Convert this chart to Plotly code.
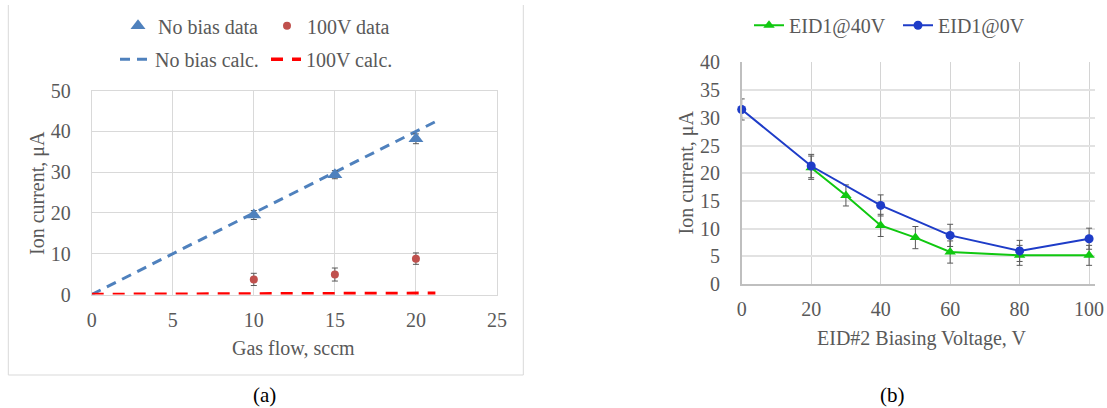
import plotly.graph_objects as go

W, H = 1107, 408

# ---------------- data: panel (a) ----------------
gas_flow = [10, 15, 20]
nobias_data = [19.5, 29.4, 38.2]
nobias_err = [1.1, 1.0, 1.2]
v100_data = [3.7, 4.9, 8.8]
v100_err = [1.5, 1.6, 1.4]
calc_flow = [0, 21.2]
nobias_calc = [0, 42.4]
v100_calc = [0, 0.3]
xticks_a = [0, 5, 10, 15, 20, 25]
yticks_a = [0, 10, 20, 30, 40, 50]

# ---------------- data: panel (b) ----------------
bias_v_40 = [20, 30, 40, 50, 60, 80, 100]
eid40 = [21.0, 16.0, 10.6, 8.4, 5.8, 5.2, 5.2]
eid40_err = [2.1, 1.9, 2.0, 2.0, 2.0, 1.8, 1.8]
bias_v_0 = [0, 20, 40, 60, 80, 100]
eid0 = [31.5, 21.3, 14.2, 8.8, 6.0, 8.2]
eid0_err = [1.9, 2.1, 1.9, 2.0, 1.9, 1.9]
xticks_b = [0, 20, 40, 60, 80, 100]
yticks_b = [0, 5, 10, 15, 20, 25, 30, 35, 40]

FONT = "Liberation Serif"
GRAY = "#595959"
ERR = dict(type="data", color="#595959", thickness=1, width=3)


def px(x):
    return x / W


def py(y):
    return 1 - y / H


fig = go.Figure()

# panel (a)
fig.add_trace(go.Scatter(x=calc_flow, y=nobias_calc, mode="lines", name="No bias calc.",
                         line=dict(color="#4F81BD", width=3, dash="10px,7px"),
                         xaxis="x", yaxis="y", legend="legend3", cliponaxis=False))
fig.add_trace(go.Scatter(x=calc_flow, y=v100_calc, mode="lines", name="100V calc.",
                         line=dict(color="#FF0000", width=3.5, dash="12px,9px"),
                         xaxis="x", yaxis="y", legend="legend4", cliponaxis=False))
fig.add_trace(go.Scatter(x=gas_flow, y=nobias_data, mode="markers", name="No bias data",
                         marker=dict(symbol="triangle-up", size=13, color="#4F81BD"),
                         error_y=dict(array=nobias_err, **ERR),
                         xaxis="x", yaxis="y", legend="legend", cliponaxis=False))
fig.add_trace(go.Scatter(x=gas_flow, y=v100_data, mode="markers", name="100V data",
                         marker=dict(symbol="circle", size=8, color="#C0504D"),
                         error_y=dict(array=v100_err, **ERR),
                         xaxis="x", yaxis="y", legend="legend2", cliponaxis=False))

# panel (b)
fig.add_trace(go.Scatter(x=bias_v_40, y=eid40, mode="lines+markers", name="EID1@40V",
                         line=dict(color="#10C810", width=2),
                         marker=dict(symbol="triangle-up", size=10, color="#10C810"),
                         error_y=dict(array=eid40_err, **ERR),
                         xaxis="x2", yaxis="y2", legend="legend5", cliponaxis=False))
fig.add_trace(go.Scatter(x=bias_v_0, y=eid0, mode="lines+markers", name="EID1@0V",
                         line=dict(color="#1E3CC8", width=2),
                         marker=dict(symbol="circle", size=9, color="#1E3CC8"),
                         error_y=dict(array=eid0_err, **ERR),
                         xaxis="x2", yaxis="y2", legend="legend6", cliponaxis=False))

tickfont = dict(family=FONT, size=20, color=GRAY)


def leg(x_start, y_center):
    return dict(x=px(x_start), y=py(y_center), xanchor="left", yanchor="middle",
                orientation="v", bgcolor="rgba(0,0,0,0)", borderwidth=0,
                font=dict(family=FONT, size=20, color=GRAY), itemwidth=30)


fig.update_layout(
    width=W, height=H,
    margin=dict(l=0, r=0, t=0, b=0, autoexpand=False),
    paper_bgcolor="white", plot_bgcolor="white",
    showlegend=True,
    xaxis=dict(domain=[px(91.7), px(497)], range=[0, 25], tickvals=xticks_a,
               showgrid=True, gridcolor="#D9D9D9", gridwidth=1, zeroline=False,
               showline=True, linecolor="#D9D9D9", linewidth=1, mirror=True, automargin=False,
               ticks="", tickfont=tickfont, ticklabelstandoff=7, fixedrange=True),
    yaxis=dict(domain=[py(294.5), py(90.7)], range=[0, 50], tickvals=yticks_a,
               showgrid=True, gridcolor="#D9D9D9", gridwidth=1, zeroline=False,
               showline=True, linecolor="#D9D9D9", linewidth=1, mirror=True, automargin=False,
               ticks="", tickfont=tickfont, ticklabelstandoff=16, fixedrange=True),
    xaxis2=dict(domain=[px(741.7), px(1095)], range=[0, 101.7], tickvals=xticks_b,
                showgrid=True, gridcolor="#D4D4D4", gridwidth=1, zeroline=False,
                showline=True, linecolor="#BFBFBF", linewidth=1.5, automargin=False,
                ticks="", tickfont=tickfont, ticklabelstandoff=6, anchor="y2", fixedrange=True),
    yaxis2=dict(domain=[py(284.2), py(62.3)], range=[0, 40], tickvals=yticks_b,
                showgrid=True, gridcolor="#E2E2E2", gridwidth=2, zeroline=False,
                showline=True, linecolor="#BFBFBF", linewidth=1.5, automargin=False,
                ticks="", tickfont=tickfont, ticklabelstandoff=16, anchor="x2", fixedrange=True),
    legend=leg(118, 25.8),
    legend2=leg(267, 25.8),
    legend3=leg(115, 59.3),
    legend4=leg(266, 59.3),
    legend5=leg(749, 25.2),
    legend6=leg(898, 25.2),
)

ann_font = dict(family=FONT, size=20, color=GRAY)
annotations = [
    dict(text="Ion current, μA", x=px(37), y=py(193), textangle=-90, font=ann_font),
    dict(text="Gas flow, sccm", x=px(293.5), y=py(348.3), font=ann_font),
    dict(text="(a)", x=px(264), y=py(395), font=dict(family=FONT, size=21, color="black")),
    dict(text="Ion current, μA", x=px(686), y=py(172.5), textangle=-90, font=ann_font),
    dict(text="EID#2 Biasing Voltage, V", x=px(921), y=py(338.3), font=ann_font),
    dict(text="(b)", x=px(892), y=py(395), font=dict(family=FONT, size=21, color="black")),
]
for a in annotations:
    a.update(xref="paper", yref="paper", showarrow=False, xanchor="center", yanchor="middle")
fig.update_layout(annotations=annotations)

# light frame around panel (a)
bc = dict(color="#D9D9D9", width=1)
fig.update_layout(shapes=[
    dict(type="line", xref="paper", yref="paper", x0=px(8.3), x1=px(8.3), y0=py(5), y1=py(375), line=bc),
    dict(type="line", xref="paper", yref="paper", x0=px(8.3), x1=px(523.3), y0=py(375), y1=py(375), line=bc),
    dict(type="line", xref="paper", yref="paper", x0=px(523.3), x1=px(523.3), y0=py(5), y1=py(375), line=bc),
])

fig.write_html("out.html", config={"displayModeBar": False},
               post_script="document.body.style.margin='0';document.body.style.overflow='hidden';")
